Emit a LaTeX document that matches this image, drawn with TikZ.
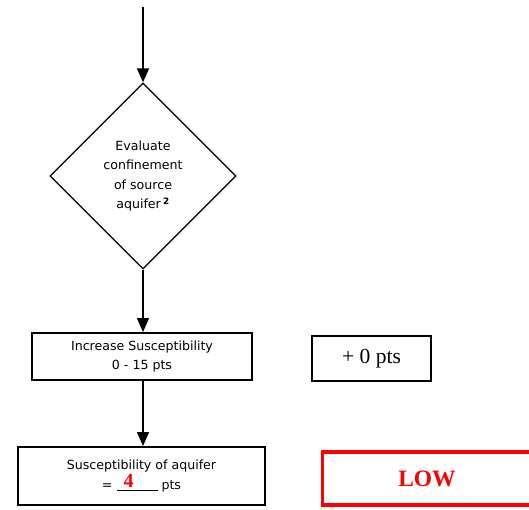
\documentclass[tikz,border=0pt]{standalone}
\usepackage{fontspec}
\setsansfont{DejaVu Sans}
\newfontfamily\timesfont{Liberation Serif}
\usetikzlibrary{shapes.geometric,arrows.meta}

\begin{document}
\begin{tikzpicture}[x=1pt, y=-1pt,
    flecha/.style={-{Triangle[length=14pt,width=12pt]}, line width=1.6pt},
    caja/.style={draw, rectangle, line width=2pt, inner sep=0pt, align=center,
        font=\sffamily\fontsize{12.6}{19.5}\selectfont}]

    \useasboundingbox (0,0) rectangle (529,509);

    % Punto de entrada de la flecha superior
    \coordinate (inicio) at (143,7);

    % Nodo para la decision
    \node (confinement) [draw, diamond, aspect=1, minimum size=186pt, line width=1.3pt,
        inner sep=0pt, align=center, font=\sffamily\fontsize{12.6}{19.5}\selectfont]
        at (143,176) {Evaluate\\confinement\\of source\\aquifer\,\textsuperscript{\bfseries 2}};

    % Nodo para el aumento
    \node (increase) [caja, minimum width=220pt, minimum height=47pt] at (142,356.5)
        {Increase Susceptibility\\0 - 15 pts};

    % Nodo para los puntos sumados
    \node (points) [caja, minimum width=119pt, minimum height=45pt] at (371.5,358.5)
        {\timesfont\fontsize{21.5}{21.5}\selectfont + 0 pts};

    % Nodo para el resultado
    \node (result) [caja, minimum width=247pt, minimum height=58pt] at (141.5,476)
        {Susceptibility of aquifer\\
         = \underline{\makebox[41pt][l]{\hspace{7pt}\raisebox{2pt}{\textcolor{red}{\timesfont\bfseries\fontsize{20}{20}\selectfont 4}}}} pts};

    % Nodo para la clasificacion
    \node (rating) [caja, draw=red, line width=3.5pt, minimum width=209pt, minimum height=53pt,
        text=red, font=\timesfont\bfseries\fontsize{23.5}{23.5}\selectfont] at (427,478.7) {LOW};

    % Conectar nodos con flechas
    \draw[flecha] (inicio) -- (confinement.north);
    \draw[flecha] (confinement.south) -- (confinement.south |- increase.north);
    \draw[flecha] (confinement.south |- increase.south) -- (confinement.south |- result.north);

\end{tikzpicture}
\end{document}
